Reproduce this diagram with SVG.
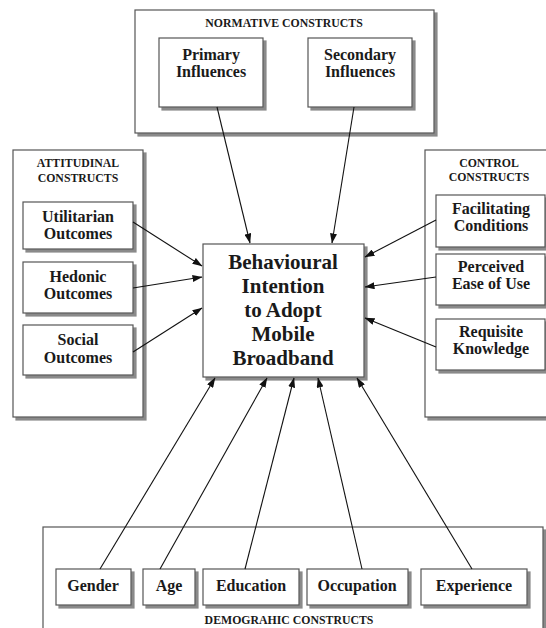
<svg xmlns="http://www.w3.org/2000/svg" width="546" height="628" viewBox="0 0 546 628">
<defs>
<marker id="ah" markerWidth="10" markerHeight="7" refX="9.5" refY="3.5" orient="auto" markerUnits="userSpaceOnUse">
<path d="M0,0 L10,3.5 L0,7 Z" fill="#111"/>
</marker>
<filter id="sh" x="-5%" y="-5%" width="115%" height="115%">
<feOffset in="SourceAlpha" dx="3" dy="3" result="o"/>
<feFlood flood-color="#8a8a8a"/>
<feComposite in2="o" operator="in" result="s"/>
<feMerge><feMergeNode in="s"/><feMergeNode in="SourceGraphic"/></feMerge>
</filter>
</defs>
<style>
.box{fill:#fff;stroke:#555;stroke-width:1.2;filter:url(#sh)}
.t{font-family:"Liberation Serif","Times New Roman",serif;font-weight:bold;fill:#1a1a1a;text-anchor:middle}
.ttl{font-size:11.8px}
.nd{font-size:16px}
.ctr{font-size:21px}
.cn line{stroke:#111;stroke-width:1.1;marker-end:url(#ah)}
</style>
<rect width="546" height="628" fill="#fff"/>

<g id="normative">
<rect class="box" x="135" y="10" width="299" height="123"/>
<text class="t ttl" x="284" y="27">NORMATIVE CONSTRUCTS</text>
</g>
<g id="primary">
<rect class="box" x="159" y="38" width="104" height="69"/>
<text class="t nd" x="211" y="60">Primary</text>
<text class="t nd" x="211" y="77">Influences</text>
</g>
<g id="secondary">
<rect class="box" x="308" y="38" width="104" height="69"/>
<text class="t nd" x="360" y="60">Secondary</text>
<text class="t nd" x="360" y="77">Influences</text>
</g>

<g id="attitudinal">
<rect class="box" x="13" y="150" width="130" height="267"/>
<text class="t ttl" x="78" y="167">ATTITUDINAL</text>
<text class="t ttl" x="78" y="182">CONSTRUCTS</text>
</g>
<g id="utilitarian">
<rect class="box" x="23" y="202" width="110" height="47"/>
<text class="t nd" x="78" y="222">Utilitarian</text>
<text class="t nd" x="78" y="239">Outcomes</text>
</g>
<g id="hedonic">
<rect class="box" x="23" y="262" width="110" height="51"/>
<text class="t nd" x="78" y="282">Hedonic</text>
<text class="t nd" x="78" y="299">Outcomes</text>
</g>
<g id="social">
<rect class="box" x="23" y="325" width="110" height="50"/>
<text class="t nd" x="78" y="345">Social</text>
<text class="t nd" x="78" y="363">Outcomes</text>
</g>

<g id="control">
<rect class="box" x="425" y="150" width="135" height="267"/>
<text class="t ttl" x="489" y="167">CONTROL</text>
<text class="t ttl" x="489" y="181">CONSTRUCTS</text>
</g>
<g id="facilitating">
<rect class="box" x="436" y="195" width="109" height="52"/>
<text class="t nd" x="491" y="214">Facilitating</text>
<text class="t nd" x="491" y="231">Conditions</text>
</g>
<g id="perceived">
<rect class="box" x="436" y="254" width="109" height="51"/>
<text class="t nd" x="491" y="272">Perceived</text>
<text class="t nd" x="491" y="289">Ease of Use</text>
</g>
<g id="requisite">
<rect class="box" x="436" y="319" width="109" height="51"/>
<text class="t nd" x="491" y="337">Requisite</text>
<text class="t nd" x="491" y="354">Knowledge</text>
</g>

<g id="intention">
<rect class="box" x="203" y="244" width="161" height="133"/>
<text class="t ctr" x="283" y="269">Behavioural</text>
<text class="t ctr" x="283" y="293">Intention</text>
<text class="t ctr" x="283" y="317">to Adopt</text>
<text class="t ctr" x="283" y="341">Mobile</text>
<text class="t ctr" x="283" y="365">Broadband</text>
</g>

<g id="demographic">
<rect class="box" x="43" y="527" width="500" height="120"/>
<text class="t ttl" x="289" y="624">DEMOGRAHIC CONSTRUCTS</text>
</g>
<g id="gender">
<rect class="box" x="56" y="569" width="75" height="36"/>
<text class="t nd" x="93" y="591">Gender</text>
</g>
<g id="age">
<rect class="box" x="143" y="569" width="52" height="36"/>
<text class="t nd" x="169" y="591">Age</text>
</g>
<g id="education">
<rect class="box" x="203" y="569" width="96" height="36"/>
<text class="t nd" x="251" y="591">Education</text>
</g>
<g id="occupation">
<rect class="box" x="307" y="569" width="101" height="36"/>
<text class="t nd" x="357" y="591">Occupation</text>
</g>
<g id="experience">
<rect class="box" x="421" y="569" width="106" height="36"/>
<text class="t nd" x="474" y="591">Experience</text>
</g>

<g id="connectors" class="cn">
<line x1="217" y1="107" x2="250" y2="243"/>
<line x1="354" y1="107" x2="332" y2="243"/>
<line x1="133" y1="222" x2="202" y2="266"/>
<line x1="133" y1="288" x2="202" y2="277"/>
<line x1="133" y1="352" x2="202" y2="308"/>
<line x1="436" y1="220" x2="365" y2="257"/>
<line x1="436" y1="277" x2="365" y2="287"/>
<line x1="436" y1="347" x2="365" y2="318"/>
<line x1="100" y1="569" x2="215" y2="378"/>
<line x1="160" y1="569" x2="267" y2="378"/>
<line x1="245" y1="569" x2="294" y2="378"/>
<line x1="362" y1="569" x2="318" y2="378"/>
<line x1="472" y1="569" x2="357" y2="378"/>
</g>
</svg>
